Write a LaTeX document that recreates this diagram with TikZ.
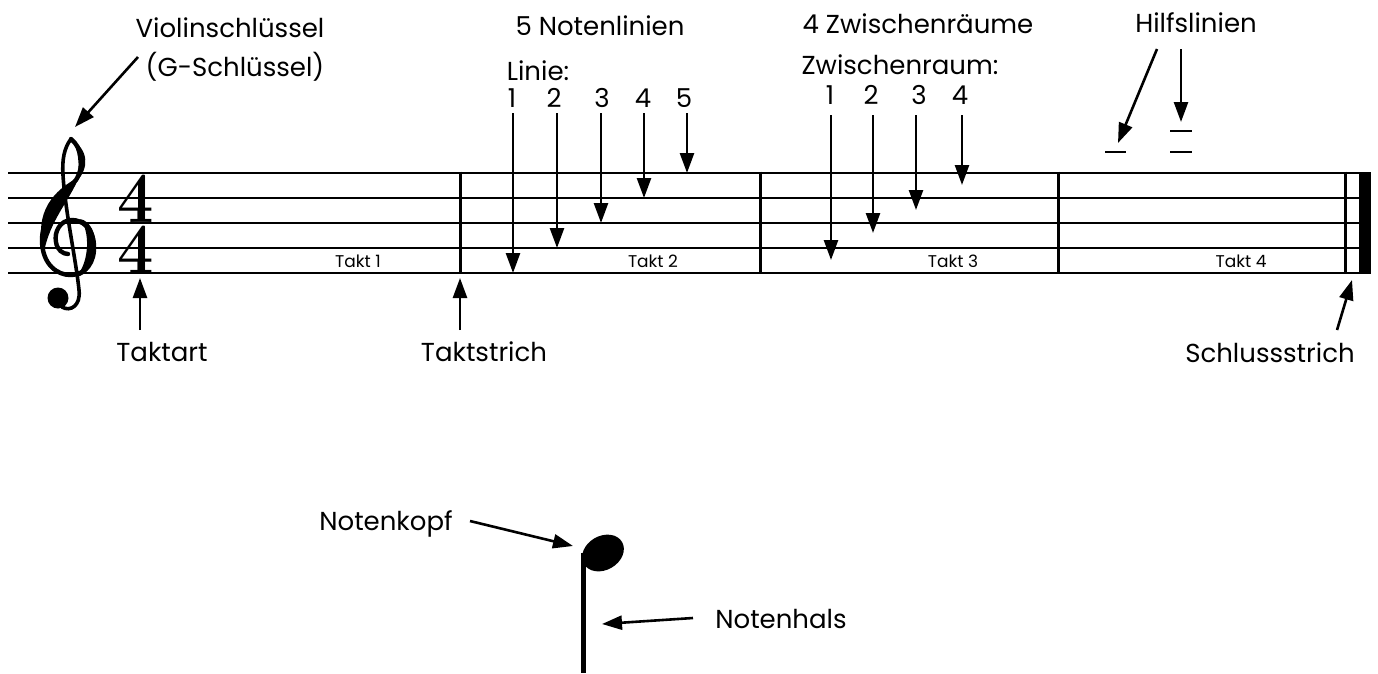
\documentclass[tikz,border=0pt]{standalone}
\usepackage{fontspec}
\newfontfamily\labelfont{Poppins}
\usetikzlibrary{arrows.meta}

\tikzset{
    staffline/.style={line width=2.6pt},
    barline/.style={line width=3pt},
    pointer/.style={-{Triangle[length=20pt, width=14pt]}, line width=2.6pt},
    caption/.style={font=\labelfont\fontsize{26}{30}\selectfont, inner sep=0pt, anchor=base, text height=19pt, text depth=4pt},
    taktname/.style={font=\labelfont\fontsize{17}{19}\selectfont, inner sep=0pt, anchor=base, text height=12pt, text depth=2pt},
    meter/.style={font=\fontsize{72}{72}\selectfont\bfseries, inner sep=0pt, anchor=base, xscale=0.9, text height=46pt, text depth=0pt}
}

\begin{document}
\begin{tikzpicture}[x=1pt, y=-1pt]
    \useasboundingbox (0,0) rectangle (1378,673);

    \foreach \y in {173, 198, 223, 248, 273}
        \draw[staffline] (8,\y) -- (1359,\y);
    \foreach \x in {460, 760, 1058, 1345}
        \draw[barline] (\x,171.7) -- (\x,274.3);
    \fill (1359,171.7) rectangle (1371,274.3);
    \foreach \n/\x in {1/358, 2/653, 3/953, 4/1241}
        \path (\x,267) node[taktname] (takt\n) {Takt \n};

    \begin{scope}[line cap=round]
        \draw[line width=3.6pt] (71,139) .. controls (64,148) and (62,160) .. (63,175)
            .. controls (65,210) and (76,260) .. (79,290) .. controls (81,306) and (70,312) .. (62,307);
        \fill (58,298) circle (10.5);
        \draw[line width=4.4pt] (71,139) .. controls (82,148) and (85,165) .. (76,180)
            .. controls (62,195) and (42,215) .. (42,240) .. controls (42,265) and (58,275) .. (70,275)
            .. controls (86,275) and (95,262) .. (94,245) .. controls (93,228) and (82,220) .. (72,220)
            .. controls (60,220) and (54,232) .. (56,242) .. controls (57,250) and (63,254) .. (68,254);
        \fill (71,139) .. controls (89,150) and (89,168) .. (77,181) .. controls (80,165) and (79,150) .. (71,139) -- cycle;
        \fill (79,177) .. controls (70,200) and (50,220) .. (44,252) .. controls (33,212) and (54,190) .. (79,177) -- cycle;
        \fill (76,277) .. controls (101,273) and (102,223) .. (80,219) .. controls (90,230) and (90,262) .. (76,277) -- cycle;
    \end{scope}

    \path (136,222) node[meter] (meterup) {4};
    \path (136,273) node[meter] (meterdown) {4};

    \path (230,37) node[caption] (violin) {Violinschlüssel};
    \path (235,76) node[caption] (gschluessel) {(G-Schlüssel)};
    \coordinate (violintop) at (138,57);
    \coordinate (violintip) at (75,127);
    \draw[pointer] (violintop) -- (violintip);

    \path (600,35) node[caption] (notenlinien) {5 Notenlinien};
    \path (538,80) node[caption] (linie) {Linie:};
    \foreach \n/\xn/\xa/\ya in {1/512/513/273, 2/554/557/248, 3/602/601/223, 4/643/644/198, 5/684/687/173} {
        \path (\xn,107) node[caption] (linie\n) {\n};
        \coordinate (linietop\n) at (\xa,113);
        \coordinate (linietip\n) at (\xa,\ya);
        \draw[pointer] (linietop\n) -- (linietip\n);
    }

    \path (918,33) node[caption] (zwischenraeume) {4 Zwischenräume};
    \path (900,74) node[caption] (zwischenraum) {Zwischenraum:};
    \foreach \n/\xn/\xa/\ya in {1/830/831/260, 2/871/873/233, 3/919/916/210, 4/960/962/185} {
        \path (\xn,104) node[caption] (raum\n) {\n};
        \coordinate (raumtop\n) at (\xa,115);
        \coordinate (raumtip\n) at (\xa,\ya);
        \draw[pointer] (raumtop\n) -- (raumtip\n);
    }

    \path (1196,32) node[caption] (hilfslinien) {Hilfslinien};
    \draw[staffline] (1105,152) -- (1126,152);
    \draw[staffline] (1170,131) -- (1192,131);
    \draw[staffline] (1170,152) -- (1192,152);
    \coordinate (hilfstop1) at (1157,49);
    \coordinate (hilfstip1) at (1118,143);
    \coordinate (hilfstop2) at (1181,49);
    \coordinate (hilfstip2) at (1181,122);
    \draw[pointer] (hilfstop1) -- (hilfstip1);
    \draw[pointer] (hilfstop2) -- (hilfstip2);

    \path (162,361) node[caption] (taktart) {Taktart};
    \path (484,361) node[caption] (taktstrich) {Taktstrich};
    \path (1270,362) node[caption] (schlussstrich) {Schlussstrich};
    \coordinate (taktarttop) at (140,330);
    \coordinate (taktarttip) at (140,278);
    \coordinate (taktstrichtop) at (460,330);
    \coordinate (taktstrichtip) at (460,278);
    \coordinate (schlusstop) at (1337,330);
    \coordinate (schlusstip) at (1352,280);
    \draw[pointer] (taktarttop) -- (taktarttip);
    \draw[pointer] (taktstrichtop) -- (taktstrichtip);
    \draw[pointer] (schlusstop) -- (schlusstip);

    \fill[rotate around={30:(603,553)}] (603,553) ellipse [x radius=22, y radius=17];
    \fill (580.5,553) rectangle (585.5,673);
    \path (386,530) node[caption] (notenkopf) {Notenkopf};
    \path (781,628) node[caption] (notenhals) {Notenhals};
    \coordinate (kopffrom) at (470,521);
    \coordinate (kopftip) at (573,546);
    \coordinate (halsfrom) at (693,618);
    \coordinate (halstip) at (602,624);
    \draw[pointer] (kopffrom) -- (kopftip);
    \draw[pointer] (halsfrom) -- (halstip);
\end{tikzpicture}
\end{document}
